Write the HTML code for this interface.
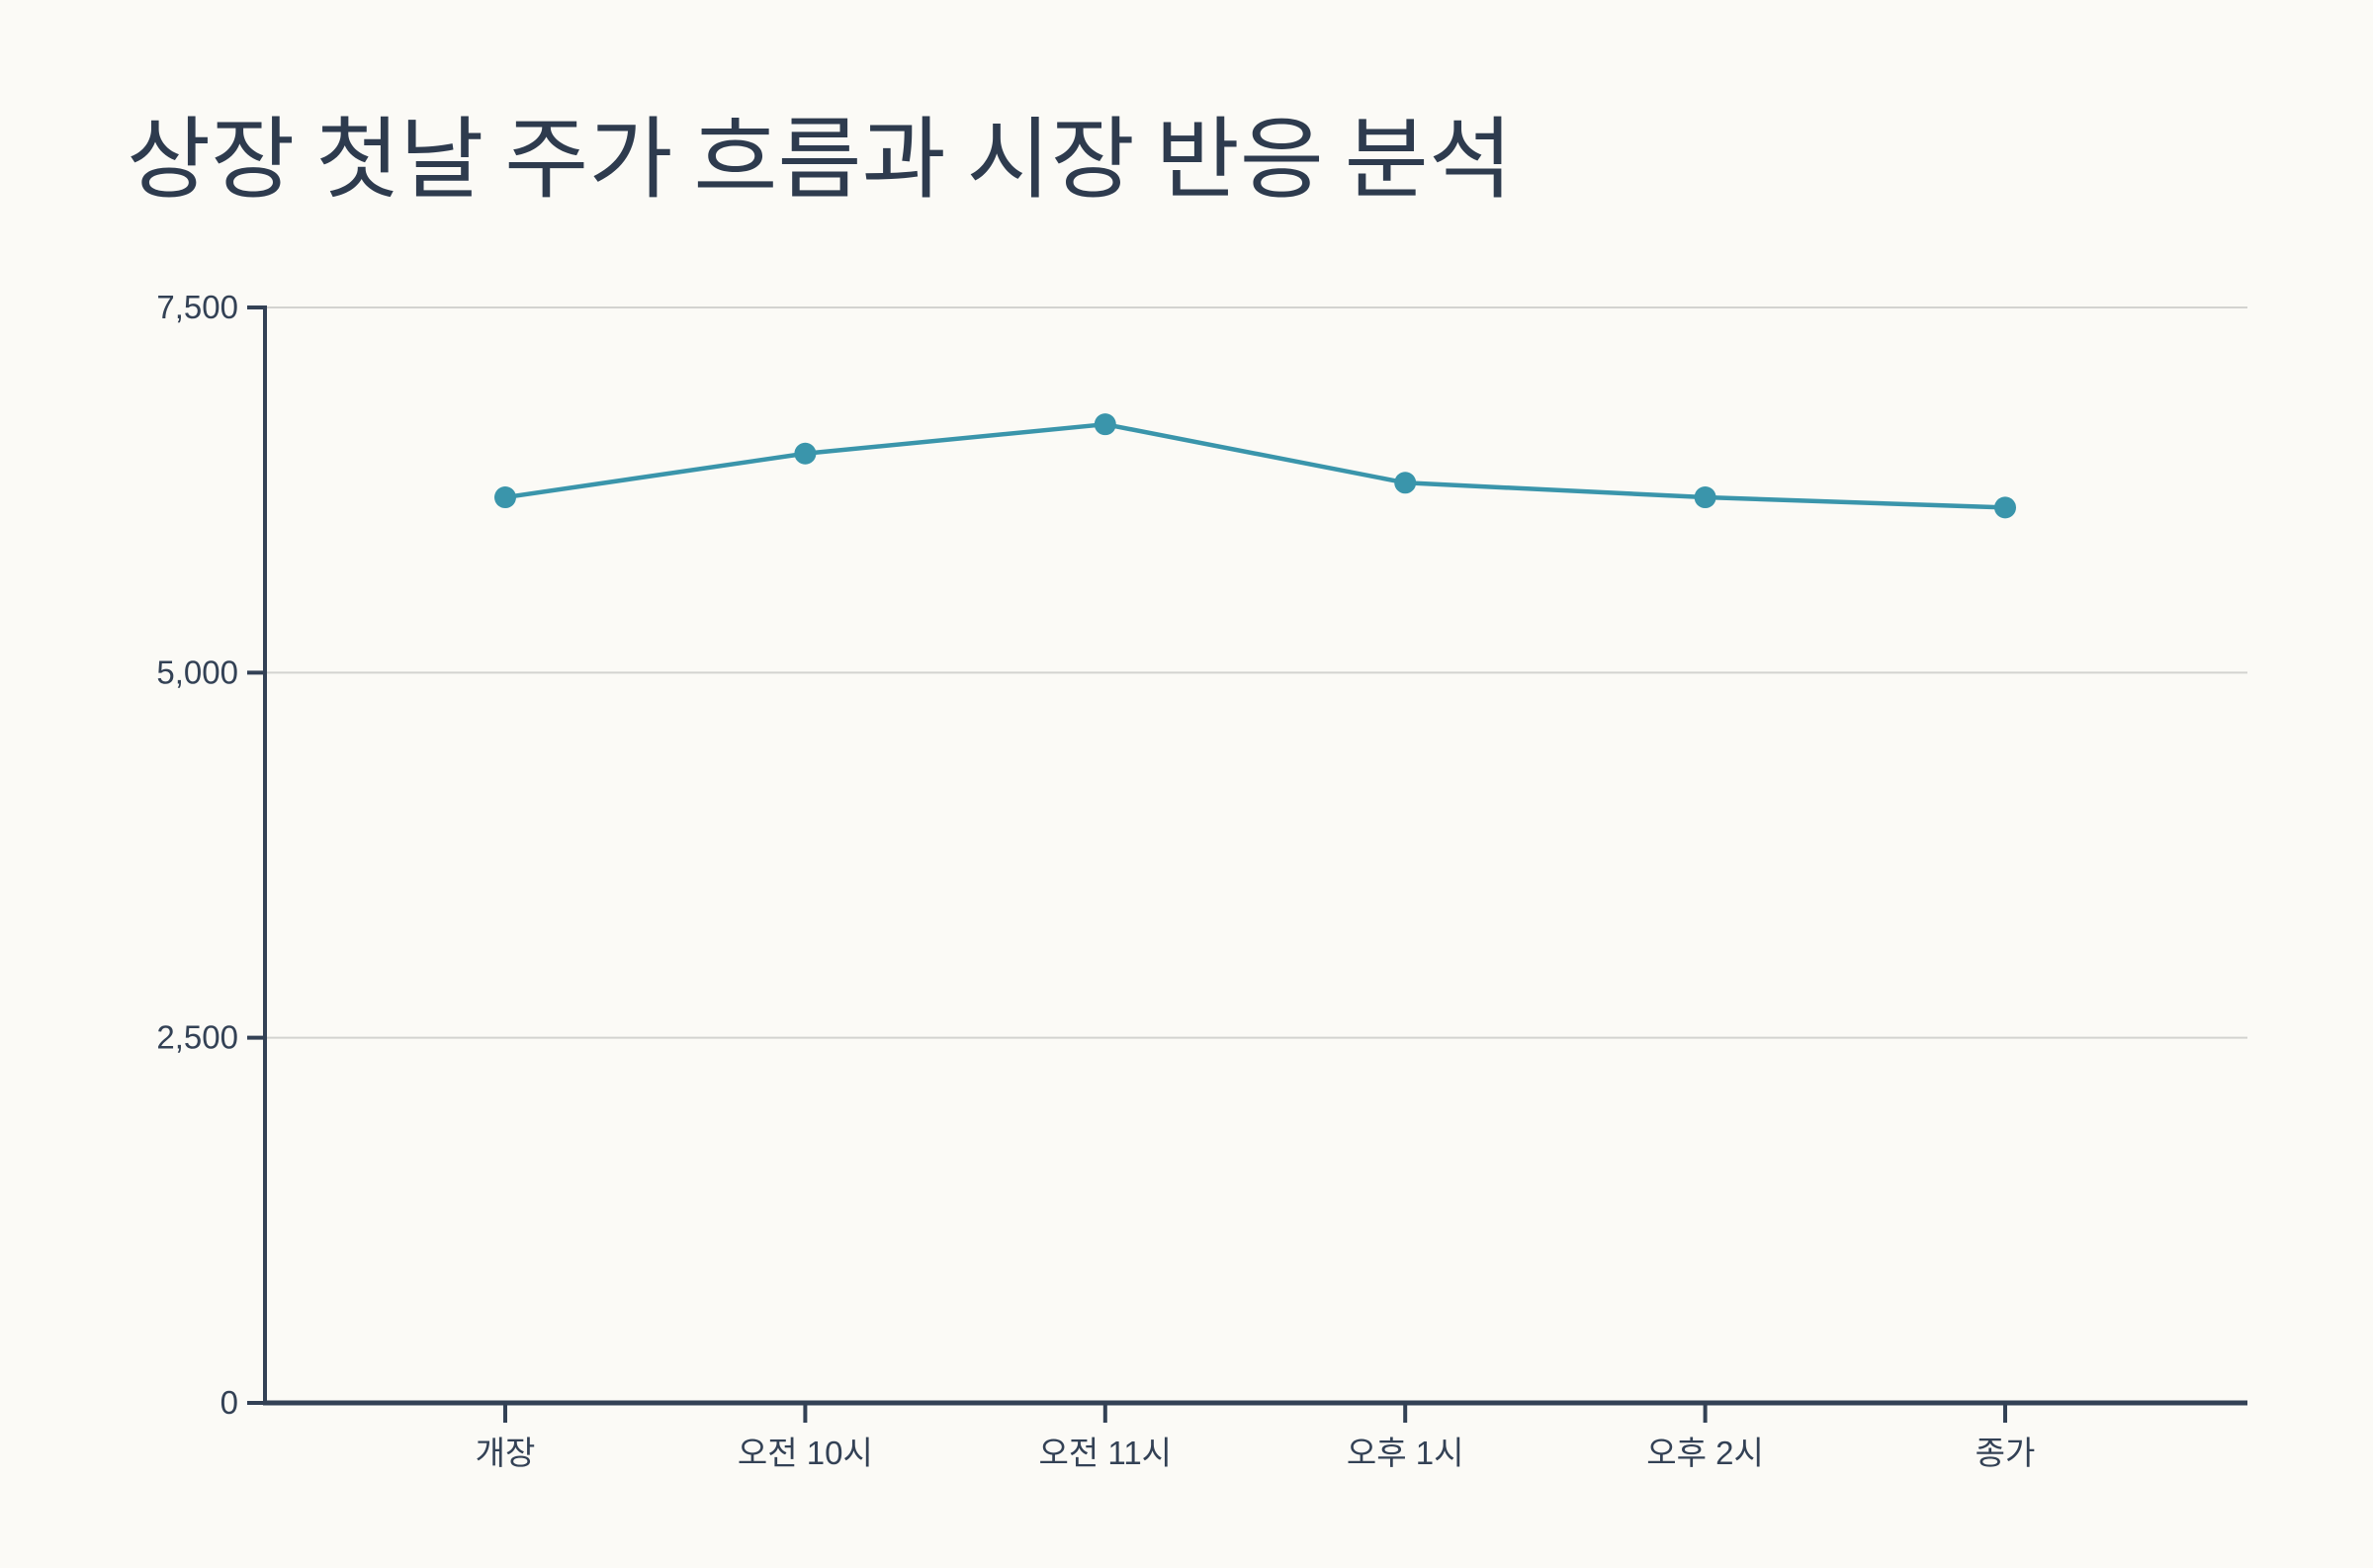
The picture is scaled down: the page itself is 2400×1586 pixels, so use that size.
<!DOCTYPE html>
<html><head><meta charset="utf-8"><style>
html,body{margin:0;padding:0;background:#fbfaf6;}
svg{display:block;font-family:"Liberation Sans","Noto Sans CJK KR",sans-serif;}
</style></head><body>
<svg width="2400" height="1586" viewBox="0 0 2400 1586">
<rect width="2400" height="1586" fill="#fbfaf6"/>
<text x="128" y="192" font-size="90" fill="#2e3b4e" textLength="1402" lengthAdjust="spacingAndGlyphs" style="font-family:'Noto Sans CJK KR','Liberation Sans',sans-serif">상장 첫날 주가 흐름과 시장 반응 분석</text>
<g id="grid"></g>
<g id="yaxis"></g>
<g id="xaxis"></g>
<g id="series"></g>
</svg>
<script>
const categories = ["개장","오전 10시","오전 11시","오후 1시","오후 2시","종가"];
const prices = [6200, 6500, 6700, 6300, 6200, 6130];
const yTicks = [0, 2500, 5000, 7500];
const yTickLabels = ["0","2,500","5,000","7,500"];

(function(){
const NS="http://www.w3.org/2000/svg";
const pLeft=268, pRight=2273, pTop=311, pBottom=1419, yMax=7500;
const x0=511, step=303.4;
function xPos(i){return x0+i*step;}
function yPos(v){return pBottom-(v/yMax)*(pBottom-pTop);}
function mk(tag,attrs,parent){const e=document.createElementNS(NS,tag);for(const k in attrs)e.setAttribute(k,attrs[k]);parent.appendChild(e);return e;}

const grid=document.getElementById('grid'),ya=document.getElementById('yaxis'),xa=document.getElementById('xaxis'),ser=document.getElementById('series');
yTicks.forEach((t,i)=>{
  const y=yPos(t);
  if(t>0){const g=mk('line',{x1:pLeft,x2:pRight,y1:y,y2:y,stroke:'#d3d3d0','stroke-width':2},grid);
  
  }
  const tk=mk('line',{x1:250,x2:pLeft,y1:y,y2:y,stroke:'#334155','stroke-width':4},ya);
  
  
  const tl=mk('text',{x:241,y:y+11,'font-size':33,fill:'#334155','text-anchor':'end'},ya);
  tl.textContent=yTickLabels[i];
  
  
});
const yl=mk('line',{x1:pLeft,x2:pLeft,y1:pTop-2,y2:pBottom+2,stroke:'#334155','stroke-width':4},ya);


const xl=mk('line',{x1:pLeft-2,x2:pRight,y1:pBottom,y2:pBottom,stroke:'#334155','stroke-width':5},xa);


categories.forEach((c,i)=>{
  const x=xPos(i);
  const tk=mk('line',{x1:x,x2:x,y1:pBottom,y2:pBottom+20,stroke:'#334155','stroke-width':4},xa);
  
  
  const tl=mk('text',{x:x,y:pBottom+62,'font-size':33,fill:'#334155','text-anchor':'middle'},xa);
  tl.textContent=c;
  
  
});
const pts=prices.map((v,i)=>xPos(i)+','+yPos(v)).join(' ');
const pl=mk('polyline',{points:pts,fill:'none',stroke:'#3a95ab','stroke-width':4.5,'stroke-linejoin':'round'},ser);


prices.forEach((v,i)=>{
  const c=mk('circle',{cx:xPos(i),cy:yPos(v),r:11,fill:'#3a95ab'},ser);
  
  
});
})();
</script>
</body></html>
